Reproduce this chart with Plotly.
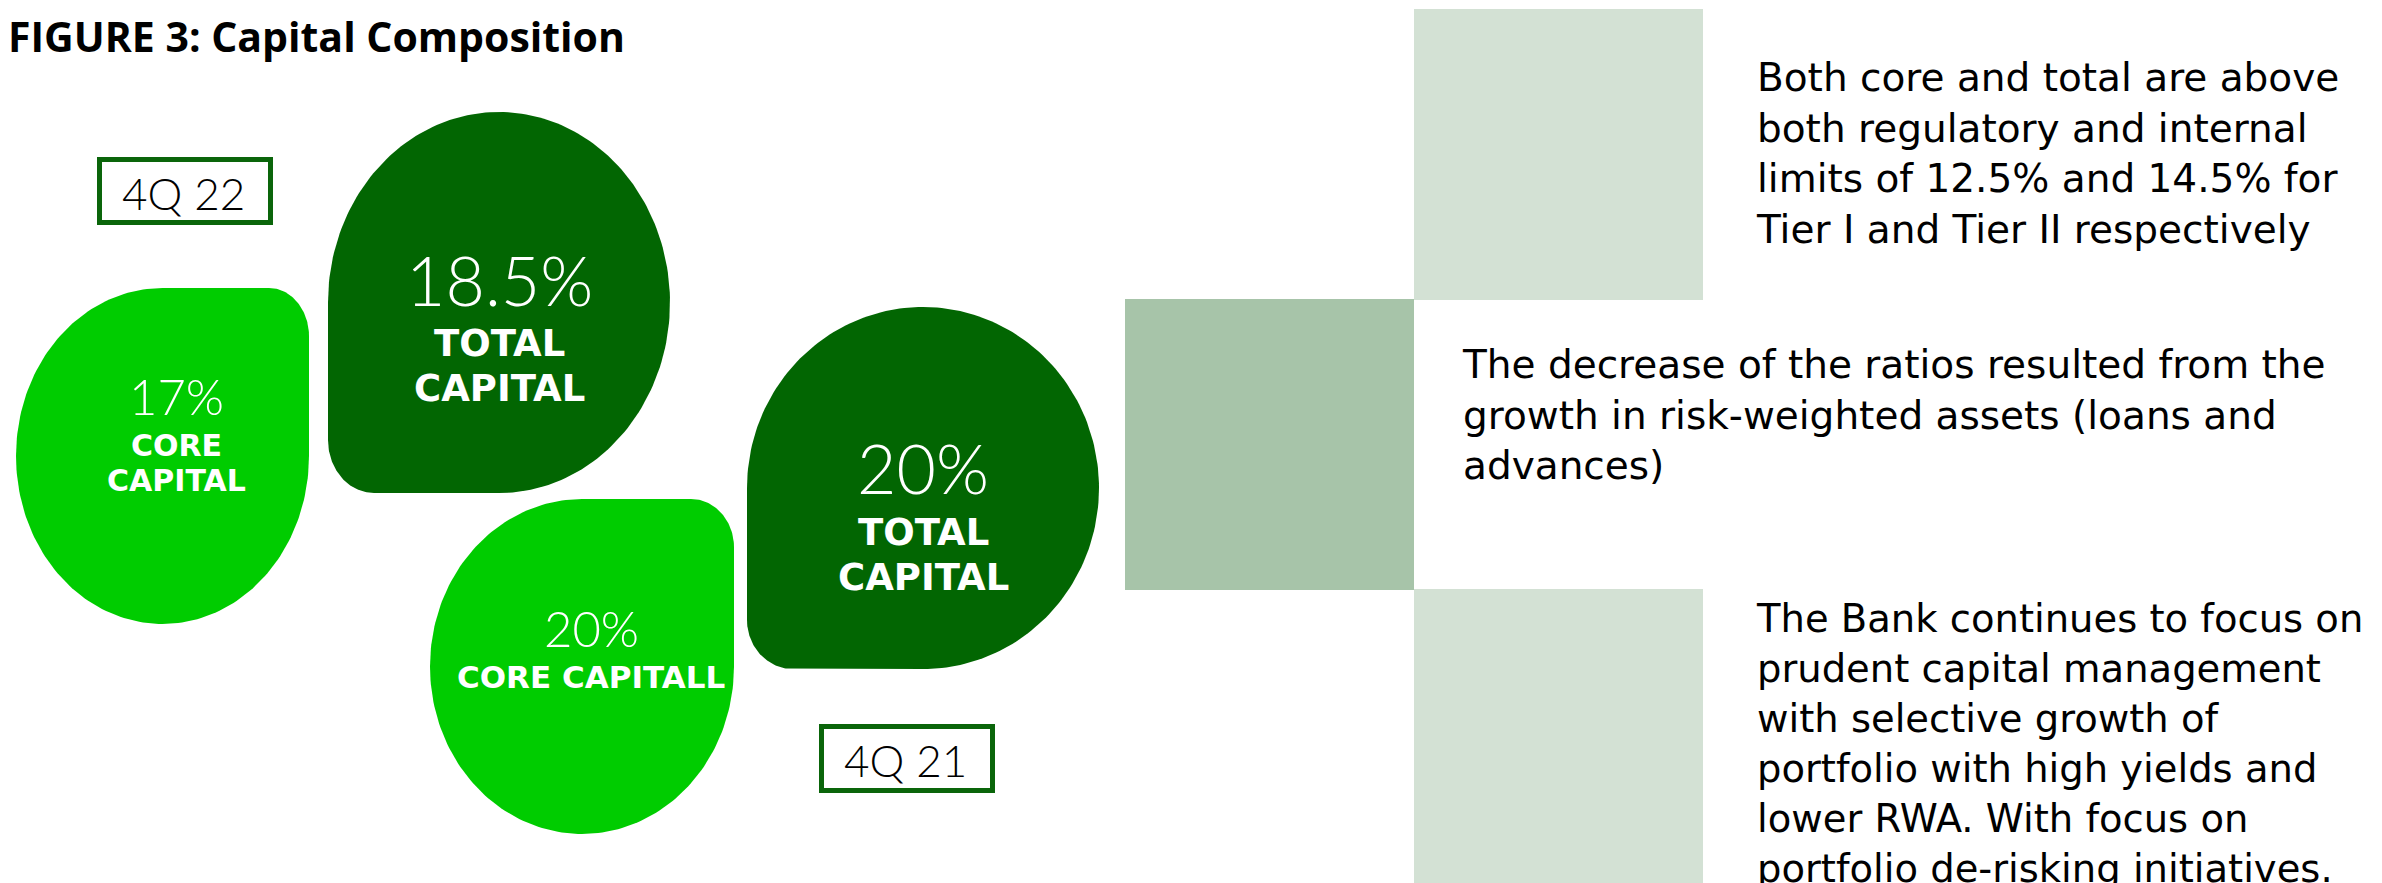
import numpy as np
import plotly.graph_objects as go

# ---------------- data ----------------
PERIODS = ["4Q 22", "4Q 21"]
CORE_RATIO = [17, 20]          # %
TOTAL_RATIO = [18.5, 20]       # %
CORE_LABEL = [["CORE", "CAPITAL"], ["CORE CAPITALL"]]
TOTAL_LABEL = [["TOTAL", "CAPITAL"], ["TOTAL", "CAPITAL"]]
TITLE = "FIGURE 3: Capital Composition"
NOTE_1 = ["Both core and total are above",
          "both regulatory and internal",
          "limits of 12.5% and 14.5% for",
          "Tier I and Tier II respectively"]
NOTE_2 = ["The decrease of the ratios resulted from the",
          "growth in risk-weighted assets (loans and",
          "advances)"]
NOTE_3 = ["The Bank continues to focus on",
          "prudent capital management",
          "with selective growth of",
          "portfolio with high yields and",
          "lower RWA. With focus on",
          "portfolio de-risking initiatives."]

# ---------------- layout / style (pixel space) ----------------
W, H = 2382, 883
LIGHT = "#00cc00"
DARK = "#026602"
BOX_LINE = "#0a650a"
PALE = "#d3e1d4"
MID = "#a7c4a9"

# blob boxes: (x0, y0, x1, y1, small corner, rx, ry)
CORE_BLOB = [(16, 288, 309, 624, "tr", 40, 48), (430, 499, 734, 834, "tr", 43, 48)]
TOTAL_BLOB = [(328, 112, 670, 493, "bl", 46, 53), (747, 307, 1099, 669, "bl", 46, 49)]
# text centre positions (x, [y of value, y of label lines...])
CORE_TXT = [(176, [396, 445, 480]), (591, [628, 677])]
TOTAL_TXT = [(499, [279, 343, 388]), (923, [467, 532, 577])]
PERIOD_BOX = [(97, 157, 273, 225), (819, 724, 995, 793)]
PERIOD_TXT = [(183, 193), (905, 760)]
# notes: (left x, vertical centre of the block, font size)
NOTE_POS = [(1754, 153, 39), (1460, 415, 39), (1754, 743, 38.5)]

NUM_FONT = "Lato"
LBL_FONT = "DejaVu Sans"
BODY_FONT = "DejaVu Sans"
TITLE_FONT = "Open Sans"


def blob_xy(x0, y0, x1, y1, small, rxs, rys, n=60):
    w, h = x1 - x0, y1 - y0
    radii = {c: (w / 2, h / 2) for c in ("tl", "tr", "br", "bl")}
    radii[small] = (rxs, rys)
    xs, ys = [], []
    spec = [("tl", lambda rx, ry: (x0 + rx, y0 + ry), 180, 270),
            ("tr", lambda rx, ry: (x1 - rx, y0 + ry), 270, 360),
            ("br", lambda rx, ry: (x1 - rx, y1 - ry), 0, 90),
            ("bl", lambda rx, ry: (x0 + rx, y1 - ry), 90, 180)]
    for c, centre, a0, a1 in spec:
        rx, ry = radii[c]
        cx, cy = centre(rx, ry)
        t = np.radians(np.linspace(a0, a1, n))
        xs.extend(cx + rx * np.cos(t))
        ys.extend(cy + ry * np.sin(t))
    xs.append(xs[0]); ys.append(ys[0])
    return xs, ys


fig = go.Figure()
annotations = []
shapes = []

# right-hand panel blocks
for (x0, y0, x1, y1, col) in [(1414, 9, 1703, 300, PALE),
                              (1125, 299, 1414, 590, MID),
                              (1414, 589, 1703, 890, PALE)]:
    shapes.append(dict(type="rect", xref="x", yref="y", x0=x0, x1=x1, y0=y0, y1=y1,
                       fillcolor=col, line=dict(width=0), layer="below"))


def add_blob(box, colour):
    xs, ys = blob_xy(*box)
    fig.add_trace(go.Scatter(x=xs, y=ys, mode="lines", fill="toself",
                             fillcolor=colour, line=dict(width=0, color=colour),
                             hoverinfo="skip", showlegend=False))


def add_text(x, y, text, size, family, color="white", weight=None, anchor="center"):
    f = dict(size=size, family=family, color=color)
    if weight:
        f["weight"] = weight
    annotations.append(dict(x=x, y=y, xref="x", yref="y", text=text, showarrow=False,
                            xanchor=anchor, yanchor="middle", align=anchor
                            if anchor != "center" else "center", font=f))


for i in range(len(PERIODS)):
    # core capital blob
    add_blob(CORE_BLOB[i], LIGHT)
    cx, ys = CORE_TXT[i]
    add_text(cx, ys[0], f"{CORE_RATIO[i]:g}%", 49, NUM_FONT, weight=300)
    for ln, yy in zip(CORE_LABEL[i], ys[1:]):
        add_text(cx, yy, ln, 30 if len(ln) < 10 else 31, LBL_FONT, weight="bold")
    # total capital blob
    add_blob(TOTAL_BLOB[i], DARK)
    cx, ys = TOTAL_TXT[i]
    add_text(cx, ys[0], f"{TOTAL_RATIO[i]:g}%", 68, NUM_FONT, weight=300)
    for ln, yy in zip(TOTAL_LABEL[i], ys[1:]):
        add_text(cx, yy, ln, 37, LBL_FONT, weight="bold")
    # period box
    bx0, by0, bx1, by1 = PERIOD_BOX[i]
    shapes.append(dict(type="rect", xref="x", yref="y", x0=bx0 + 2.5, x1=bx1 - 2.5,
                       y0=by0 + 2.5, y1=by1 - 2.5, fillcolor="white",
                       line=dict(width=5, color=BOX_LINE)))
    tx, ty = PERIOD_TXT[i]
    add_text(tx, ty, PERIODS[i], 44, NUM_FONT, color="black", weight=300)

# title
add_text(6, 36, f"<b>{TITLE}</b>", 41, TITLE_FONT, color="black", anchor="left")

# notes (one multi-line text block each)
for lines, (x, yc, fs) in zip([NOTE_1, NOTE_2, NOTE_3], NOTE_POS):
    add_text(x, yc, "<br>".join(lines), fs, BODY_FONT, color="black", anchor="left")

fig.update_layout(
    width=W, height=H, margin=dict(l=0, r=0, t=0, b=0),
    paper_bgcolor="white", plot_bgcolor="white",
    xaxis=dict(range=[0, W], visible=False, fixedrange=True),
    yaxis=dict(range=[H, 0], visible=False, fixedrange=True),
    shapes=shapes, annotations=annotations, showlegend=False,
)

fig.write_html("out.html", config={"displayModeBar": False})
